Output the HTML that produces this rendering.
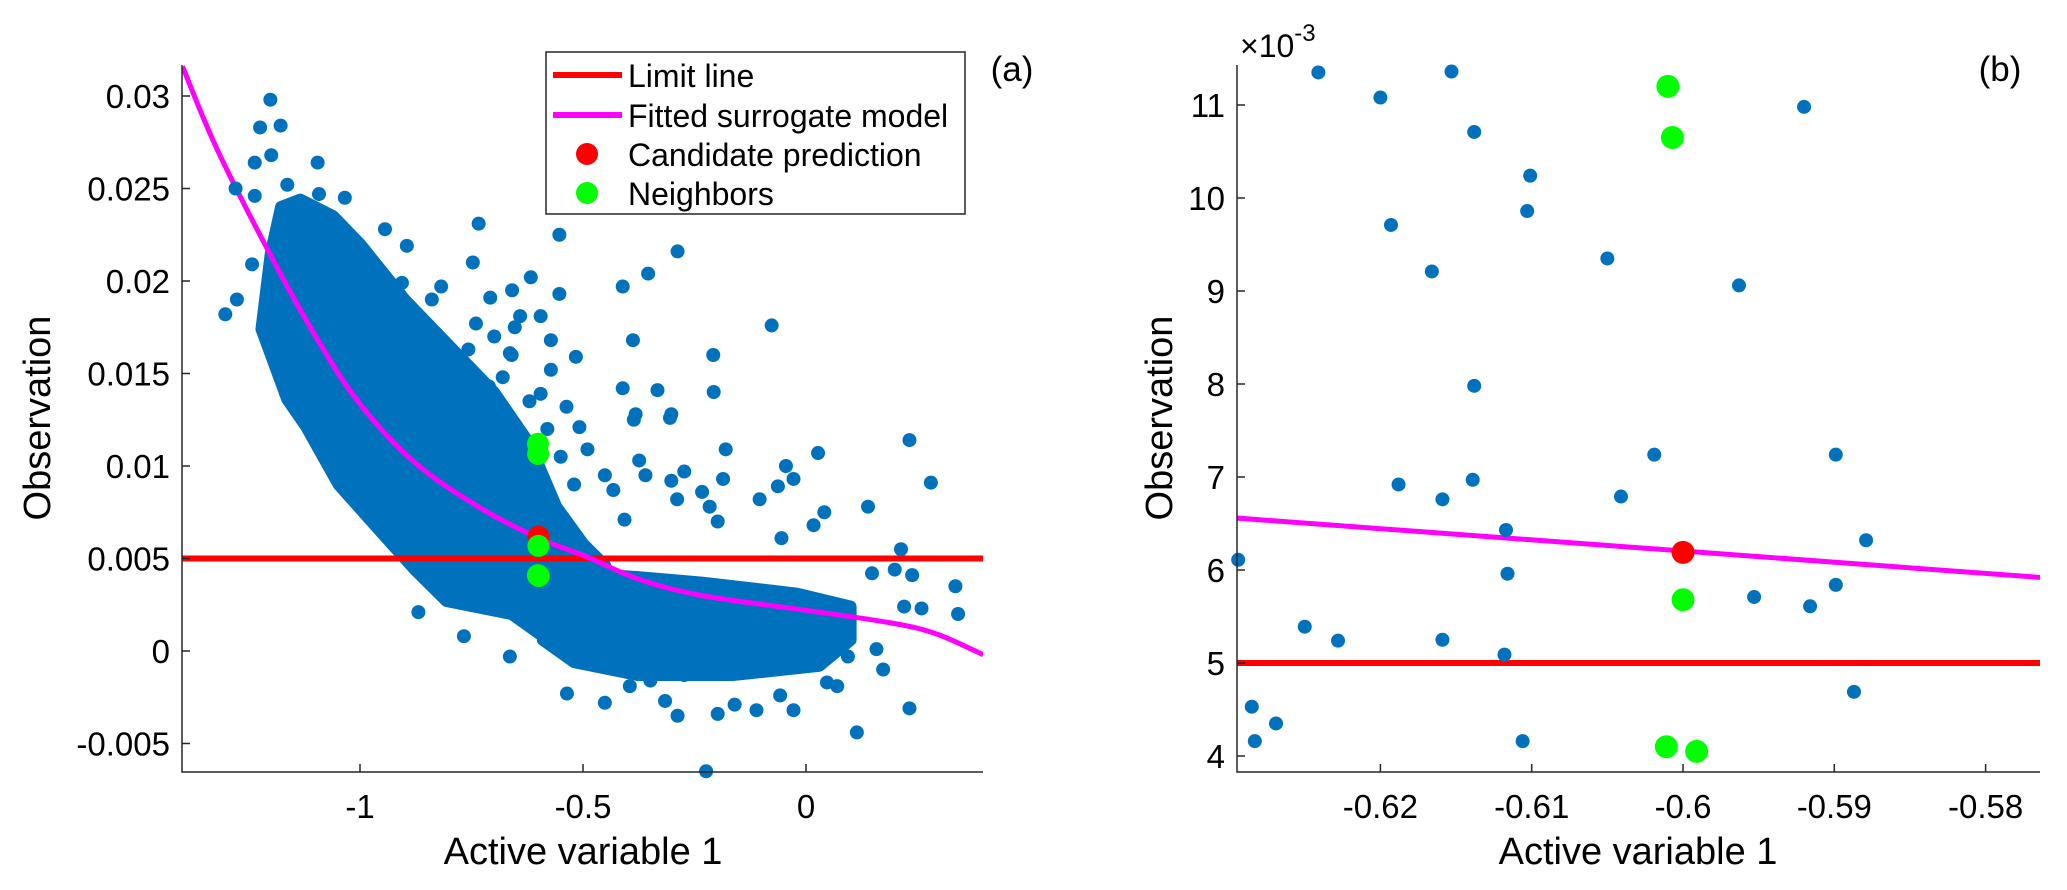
<!DOCTYPE html>
<html><head><meta charset="utf-8"><style>
html,body{margin:0;padding:0;background:#fff;}
svg{display:block;font-family:"Liberation Sans",Arial,sans-serif;}
</style></head><body>
<svg id="fig" width="2067" height="890" viewBox="0 0 2067 890">
<defs>
<clipPath id="clipA"><rect x="182" y="65" width="801" height="707"/></clipPath>
<clipPath id="clipB"><rect x="1237" y="65" width="803" height="707"/></clipPath>
</defs>
<g id="panelA"></g>
<g id="panelB"></g>
</svg>
<script>
// ---------- shared data ----------
const candX = [-0.6];
const candY = [0.00619];
const neighX = [-0.601, -0.6007, -0.6, -0.6011, -0.5991];
const neighY = [0.0112, 0.01065, 0.00568, 0.0041, 0.00405];
const limitY = 0.005;
// ---------- panel A data ----------
const curveAX = [-1.398,-1.32,-1.193,-1.092,-1.0,-0.878,-0.735,-0.6,-0.492,-0.377,-0.234,0.0,0.195,0.295,0.397];
const curveAY = [0.0316,0.0271,0.02105,0.0167,0.01335,0.0102,0.0078,0.0061,0.0051,0.0039,0.0030,0.0022,0.0015,0.0009,-0.0002];
const denseMainX = [-1.134,-1.06,-1.0,-0.9,-0.8,-0.7,-0.62,-0.56,-0.50,-0.45,-0.50,-0.59,-0.66,-0.806,-0.877,-0.948,-1.048,-1.12,-1.163,-1.221,-1.20,-1.177];
const denseMainY = [0.0244,0.0235,0.0220,0.0190,0.0165,0.0140,0.0112,0.0078,0.0058,0.0046,0.0020,0.0008,0.0020,0.0027,0.0044,0.0063,0.0090,0.0121,0.0136,0.0174,0.0215,0.0240];
const denseLowX = [-0.50,-0.38,-0.234,-0.02,0.10,0.10,0.03,-0.164,-0.377,-0.52,-0.59];
const denseLowY = [0.0042,0.0040,0.0037,0.0031,0.0024,0.0006,-0.0008,-0.0013,-0.0013,-0.0006,0.0006];
const ptsAX = [-1.201,-1.224,-1.178,-1.199,-1.236,-1.095,-1.279,-1.236,-1.163,-1.034,-1.092,-0.734,-0.553,-0.288,-0.944,-0.895,-0.747,-0.354,-0.411,-0.617,-0.553,-1.242,-1.276,-1.302,-0.077,-0.388,-0.516,-0.208,-0.411,-0.333,-0.207,-0.659,-0.708,-0.818,-0.906,-0.839,-0.740,-0.641,-0.595,-0.653,-0.699,-0.572,-0.664,-0.572,-0.757,-0.804,-0.711,-0.595,-0.537,-0.386,-0.305,
-0.382,-0.302,-0.180,0.027,0.232,0.280,0.139,-0.045,-0.028,-0.063,-0.104,0.041,0.017,-0.055,0.213,0.199,0.238,0.335,0.341,0.220,0.259,0.148,0.173,0.232,0.114,-0.224,-0.288,-0.198,-0.028,-0.111,-0.451,-0.316,-0.536,-0.767,-0.869,-0.664,-0.186,-0.233,-0.289,-0.302,-0.273,-0.374,-0.360,-0.451,-0.432,-0.407,-0.198,-0.216,-0.508,-0.490,0.047,0.07,-0.058,-0.395,-0.349,-0.273,-0.160,0.094,0.158,
-0.68,-0.62,-0.58,-0.66,-0.55,-0.52];
const ptsAY = [0.0298,0.0283,0.0284,0.0268,0.0264,0.0264,0.0250,0.0246,0.0252,0.0245,0.0247,0.0231,0.0225,0.0216,0.0228,0.0219,0.0210,0.0204,0.0197,0.0202,0.0193,0.0209,0.0190,0.0182,0.0176,0.0168,0.0159,0.0160,0.0142,0.0141,0.0140,0.0195,0.0191,0.0197,0.0199,0.0190,0.0177,0.0181,0.0181,0.0175,0.0170,0.0168,0.0161,0.0152,0.0163,0.0152,0.0143,0.0139,0.0132,0.0125,0.0126,
0.0128,0.0128,0.0109,0.0107,0.0114,0.0091,0.0078,0.0100,0.0093,0.0089,0.0082,0.0075,0.0068,0.0061,0.0055,0.0044,0.0041,0.0035,0.0020,0.0024,0.0023,0.0042,-0.0010,-0.0031,-0.0044,-0.0065,-0.0035,-0.0034,-0.0032,-0.0032,-0.0028,-0.0027,-0.0023,0.0008,0.0021,-0.0003,0.0093,0.0086,0.0082,0.0092,0.0097,0.0103,0.0095,0.0095,0.0087,0.0071,0.0070,0.0078,0.0121,0.0109,-0.0017,-0.0019,-0.0024,-0.0019,-0.0016,-0.0013,-0.0029,-0.0003,0.0001,
0.0148,0.0135,0.0120,0.0160,0.0105,0.0090];
const ticksAX = [-1,-0.5,0];
const tickLabelsAX = ["-1","-0.5","0"];
const ticksAY = [-0.005,0,0.005,0.01,0.015,0.02,0.025,0.03];
const tickLabelsAY = ["-0.005","0","0.005","0.01","0.015","0.02","0.025","0.03"];
// ---------- panel B data (y in 1e-3 units) ----------
const curveBX = [-0.6296,-0.5764];
const curveBY = [6.56,5.92];
const ptsBX = [-0.6294,-0.6116,-0.6250,-0.6228,-0.6159,-0.6118,-0.5953,-0.5916,-0.5899,-0.5887,-0.6285,-0.6269,-0.6283,-0.6106,
-0.6138,-0.6019,-0.5899,-0.6188,-0.6139,-0.6159,-0.6041,-0.6117,-0.5879,
-0.6241,-0.6153,-0.6200,-0.6138,-0.5920,-0.6101,-0.6103,-0.6193,-0.6166,-0.6050,-0.5963];
const ptsBY = [6.11,5.96,5.39,5.24,5.25,5.09,5.71,5.61,5.84,4.69,4.53,4.35,4.16,4.16,
7.98,7.24,7.24,6.92,6.97,6.76,6.79,6.43,6.32,
11.35,11.36,11.08,10.71,10.98,10.24,9.86,9.71,9.21,9.35,9.06];
const ticksBX = [-0.62,-0.61,-0.6,-0.59,-0.58];
const tickLabelsBX = ["-0.62","-0.61","-0.6","-0.59","-0.58"];
const ticksBY = [4,5,6,7,8,9,10,11];
const tickLabelsBY = ["4","5","6","7","8","9","10","11"];

const NS = "http://www.w3.org/2000/svg";
function mk(parent, tag, attrs, text){
  const e = document.createElementNS(NS, tag);
  for (const k in attrs) e.setAttribute(k, attrs[k]);
  if (text !== undefined) e.textContent = text;
  parent.appendChild(e);
  return e;
}
const BLUE = "#0072BD", AX = "#262626";
const TICKFS = 33, TITLEFS = 38;

const A = document.getElementById("panelA");
const xA = v => 806 + v * 446;
const yA = v => 651 - v * 18500;
const gA = mk(A, "g", {"clip-path":"url(#clipA)"});


let poly = mk(gA, "polygon", {points: denseMainX.map((x,i)=>xA(x)+","+yA(denseMainY[i])).join(" "), fill:BLUE, stroke:BLUE, "stroke-width":12, "stroke-linejoin":"round"});


poly = mk(gA, "polygon", {points: denseLowX.map((x,i)=>xA(x)+","+yA(denseLowY[i])).join(" "), fill:BLUE, stroke:BLUE, "stroke-width":12, "stroke-linejoin":"round"});


ptsAX.forEach((x,i)=>{
  const c = mk(A, "circle", {cx:xA(x), cy:yA(ptsAY[i]), r:7, fill:BLUE});
  
  
});
let ln = mk(gA, "line", {x1:182, x2:983, y1:yA(limitY), y2:yA(limitY), stroke:"#FF0000", "stroke-width":6});


function smoothPath(px, py){
  let d = "M" + px[0] + "," + py[0];
  for (let i = 0; i < px.length - 1; i++){
    const p0x = px[Math.max(i-1,0)], p0y = py[Math.max(i-1,0)];
    const p3x = px[Math.min(i+2,px.length-1)], p3y = py[Math.min(i+2,px.length-1)];
    const c1x = px[i] + (px[i+1]-p0x)/6, c1y = py[i] + (py[i+1]-p0y)/6;
    const c2x = px[i+1] - (p3x-px[i])/6, c2y = py[i+1] - (p3y-py[i])/6;
    d += " C" + c1x + "," + c1y + " " + c2x + "," + c2y + " " + px[i+1] + "," + py[i+1];
  }
  return d;
}
ln = mk(gA, "path", {d: smoothPath(curveAX.map(xA), curveAY.map(yA)), fill:"none", stroke:"#FF00FF", "stroke-width":5});


candX.forEach((x,i)=>{
  const c = mk(A, "circle", {cx:xA(x), cy:yA(candY[i]), r:11, fill:"#FF0000"});
  
  
});
neighX.forEach((x,i)=>{
  const c = mk(A, "circle", {cx:xA(x), cy:yA(neighY[i]), r:11, fill:"#00FF00"});
  
  
});
let ax = mk(A, "path", {d:"M182,65 V772 H983", fill:"none", stroke:AX, "stroke-width":1.5});


ticksAX.forEach((v,i)=>{
  const t = mk(A, "line", {x1:xA(v), x2:xA(v), y1:772, y2:764, stroke:AX, "stroke-width":1.5});
  
  
  const l = mk(A, "text", {x:xA(v), y:818, "font-size":TICKFS, "text-anchor":"middle", fill:"#000"}, tickLabelsAX[i]);
  
  
});
ticksAY.forEach((v,i)=>{
  const t = mk(A, "line", {x1:182, x2:190, y1:yA(v), y2:yA(v), stroke:AX, "stroke-width":1.5});
  
  
  const l = mk(A, "text", {x:170, y:yA(v)+12, "font-size":TICKFS, "text-anchor":"end", fill:"#000"}, tickLabelsAY[i]);
  
  
});
</script>
<script>
(function(){
const A = document.getElementById("panelA");
const B = document.getElementById("panelB");
let t = mk(A, "text", {x:583, y:864, "font-size":TITLEFS, "text-anchor":"middle"}, "Active variable 1");


t = mk(A, "text", {x:0, y:0, "font-size":TITLEFS, "text-anchor":"middle", transform:"translate(50,418) rotate(-90)"}, "Observation");


t = mk(A, "text", {x:1012, y:81, "font-size":35, "text-anchor":"middle"}, "(a)");


const L = mk(A, "g", {});


let r = mk(L, "rect", {x:546, y:52, width:419, height:162, fill:"#fff", stroke:"#262626", "stroke-width":1.5});


const entries = [["Limit line","line","#FF0000",75],["Fitted surrogate model","line","#FF00FF",115],["Candidate prediction","dot","#FF0000",154],["Neighbors","dot","#00FF00",193]];
entries.forEach(e=>{
  const g = mk(L, "g", {});
  
  
  if (e[1]==="line") mk(g, "line", {x1:553, x2:622, y1:e[3], y2:e[3], stroke:e[2], "stroke-width":6});
  else mk(g, "circle", {cx:587, cy:e[3], r:11, fill:e[2]});
  mk(g, "text", {x:628, y:e[3]+12, "font-size":32}, e[0]);
});

const xB = v => 1683 + (v + 0.6) * 15130;
const yB = v => 570 - (v - 6) * 93;
const gB = mk(B, "g", {"clip-path":"url(#clipB)"});


ptsBX.forEach((x,i)=>{
  const c = mk(B, "circle", {cx:xB(x), cy:yB(ptsBY[i]), r:7, fill:"#0072BD"});
  
  
});
let ln = mk(gB, "line", {x1:1237, x2:2040, y1:yB(limitY*1000), y2:yB(limitY*1000), stroke:"#FF0000", "stroke-width":6});


ln = mk(gB, "polyline", {points: curveBX.map((x,i)=>xB(x)+","+yB(curveBY[i])).join(" "), fill:"none", stroke:"#FF00FF", "stroke-width":5});


candX.forEach((x,i)=>{
  const c = mk(B, "circle", {cx:xB(x), cy:yB(candY[i]*1000), r:11.5, fill:"#FF0000"});
  
  
});
neighX.forEach((x,i)=>{
  const c = mk(B, "circle", {cx:xB(x), cy:yB(neighY[i]*1000), r:11.5, fill:"#00FF00"});
  
  
});
let ax = mk(B, "path", {d:"M1237,65 V772 H2040", fill:"none", stroke:"#262626", "stroke-width":1.5});


ticksBX.forEach((v,i)=>{
  const tk = mk(B, "line", {x1:xB(v), x2:xB(v), y1:772, y2:764, stroke:"#262626", "stroke-width":1.5});
  
  
  const l = mk(B, "text", {x:xB(v), y:818, "font-size":TICKFS, "text-anchor":"middle"}, tickLabelsBX[i]);
  
  
});
ticksBY.forEach((v,i)=>{
  const tk = mk(B, "line", {x1:1237, x2:1245, y1:yB(v), y2:yB(v), stroke:"#262626", "stroke-width":1.5});
  
  
  const l = mk(B, "text", {x:1225, y:yB(v)+12, "font-size":TICKFS, "text-anchor":"end"}, tickLabelsBY[i]);
  
  
});
t = mk(B, "text", {x:1638, y:864, "font-size":TITLEFS, "text-anchor":"middle"}, "Active variable 1");


t = mk(B, "text", {x:0, y:0, "font-size":TITLEFS, "text-anchor":"middle", transform:"translate(1172,418) rotate(-90)"}, "Observation");


t = mk(B, "text", {x:2000, y:81, "font-size":35, "text-anchor":"middle"}, "(b)");


t = mk(B, "text", {x:1240, y:57, "font-size":32}, "×10");


mk(t, "tspan", {dy:-16, "font-size":24}, "-3");
})();
</script>
</body></html>
